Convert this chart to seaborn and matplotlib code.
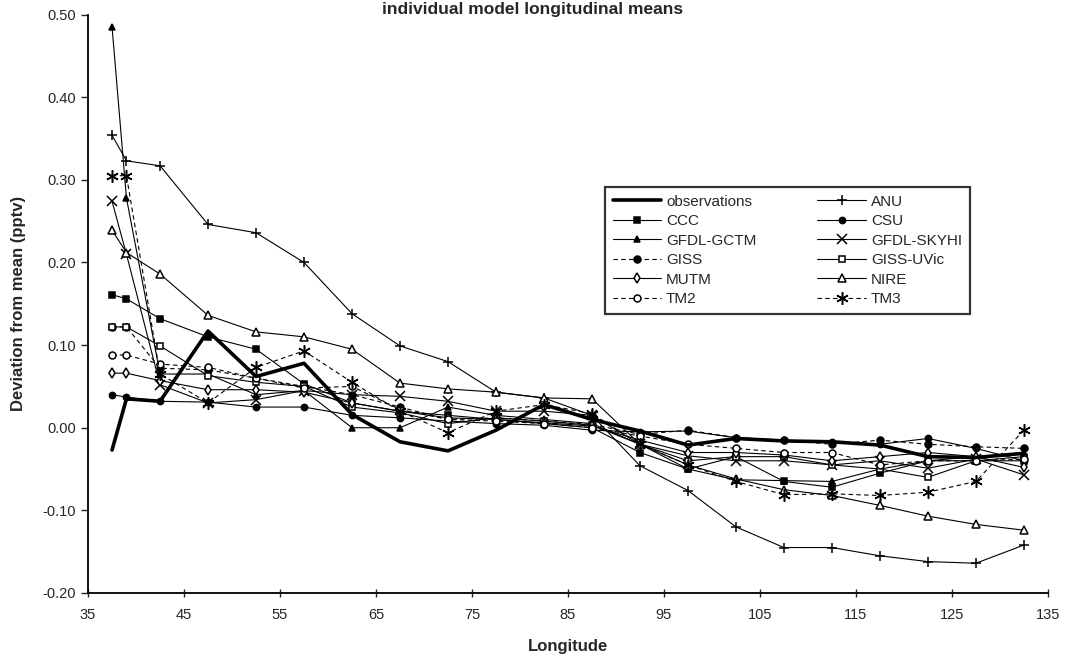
#Libraries needed to run the tool
import numpy as np
import pandas as pd
import matplotlib
matplotlib.use("Agg")
import matplotlib.pyplot as plt
import seaborn as sns

#Longitudes of the points
longitude = [37.5, 39.0, 42.5, 47.5, 52.5, 57.5, 62.5, 67.5, 72.5, 77.5, 82.5,
             87.5, 92.5, 97.5, 102.5, 107.5, 112.5, 117.5, 122.5, 127.5, 132.5]

#Deviation from mean (pptv) for each series
observations = [-0.027, 0.035, 0.032, 0.117, 0.062, 0.078, 0.016, -0.017, -0.028, -0.003, 0.028,
                0.010, -0.004, -0.021, -0.013, -0.016, -0.017, -0.021, -0.035, -0.036, -0.031]
anu = [0.354, 0.323, 0.317, 0.246, 0.236, 0.200, 0.138, 0.099, 0.080, 0.043, 0.036,
       0.015, -0.046, -0.076, -0.120, -0.145, -0.145, -0.155, -0.162, -0.164, -0.142]
ccc = [0.161, 0.156, 0.132, 0.110, 0.095, 0.053, 0.030, 0.020, 0.015, 0.010, 0.005,
       0.000, -0.030, -0.050, -0.035, -0.065, -0.072, -0.055, -0.040, -0.040, -0.035]
csu = [0.040, 0.037, 0.032, 0.031, 0.025, 0.025, 0.015, 0.012, 0.008, 0.005, 0.003,
       -0.003, -0.005, -0.004, -0.012, -0.015, -0.017, -0.020, -0.013, -0.025, -0.040]
gfdl_gctm = [0.485, 0.278, 0.065, 0.065, 0.040, 0.045, 0.000, 0.000, 0.025, 0.015, 0.010,
             0.005, -0.020, -0.050, -0.063, -0.064, -0.065, -0.050, -0.040, -0.035, -0.030]
gfdl_skyhi = [0.274, 0.210, 0.052, 0.030, 0.034, 0.045, 0.040, 0.038, 0.032, 0.020, 0.020,
              0.015, -0.020, -0.034, -0.040, -0.040, -0.045, -0.040, -0.049, -0.038, -0.057]
giss = [0.122, 0.122, 0.072, 0.070, 0.060, 0.050, 0.040, 0.025, 0.010, 0.012, 0.008,
        0.004, -0.008, -0.003, -0.012, -0.015, -0.020, -0.015, -0.020, -0.023, -0.025]
giss_uvic = [0.122, 0.122, 0.099, 0.063, 0.055, 0.050, 0.025, 0.018, 0.005, 0.012, 0.008,
             0.003, -0.020, -0.040, -0.035, -0.035, -0.045, -0.050, -0.060, -0.040, -0.040]
mutm = [0.066, 0.066, 0.057, 0.046, 0.046, 0.043, 0.030, 0.020, 0.012, 0.010, 0.006,
        0.002, -0.015, -0.030, -0.030, -0.033, -0.040, -0.035, -0.030, -0.035, -0.048]
nire = [0.239, 0.212, 0.186, 0.136, 0.116, 0.110, 0.095, 0.054, 0.047, 0.043, 0.036,
        0.035, -0.020, -0.045, -0.062, -0.075, -0.082, -0.094, -0.107, -0.117, -0.124]
tm2 = [0.088, 0.088, 0.077, 0.073, 0.060, 0.048, 0.050, 0.022, 0.010, 0.008, 0.005,
       0.000, -0.010, -0.020, -0.025, -0.030, -0.030, -0.045, -0.040, -0.040, -0.038]
tm3 = [0.305, 0.305, 0.065, 0.030, 0.073, 0.093, 0.055, 0.020, -0.006, 0.020, 0.028,
       0.017, -0.020, -0.045, -0.065, -0.081, -0.080, -0.082, -0.078, -0.065, -0.003]

series = [
    ("observations", observations),
    ("ANU", anu),
    ("CCC", ccc),
    ("CSU", csu),
    ("GFDL-GCTM", gfdl_gctm),
    ("GFDL-SKYHI", gfdl_skyhi),
    ("GISS", giss),
    ("GISS-UVic", giss_uvic),
    ("MUTM", mutm),
    ("NIRE", nire),
    ("TM2", tm2),
    ("TM3", tm3),
]

#Line styles: (linestyle, marker, markersize, marker face, linewidth)
styles = {
    "observations": ("-", None, 0, "black", 2.6),
    "ANU": ("-", "+", 7, "black", 0.8),
    "CCC": ("-", "s", 5, "black", 0.8),
    "CSU": ("-", "o", 4.5, "black", 0.8),
    "GFDL-GCTM": ("-", "^", 5, "black", 0.8),
    "GFDL-SKYHI": ("-", "x", 7.5, "black", 0.8),
    "GISS": ((0, (4, 3)), "o", 5, "black", 0.8),
    "GISS-UVic": ("-", "s", 4.5, "white", 0.8),
    "MUTM": ("-", "d", 5, "white", 0.8),
    "NIRE": ("-", "^", 5.5, "white", 0.8),
    "TM2": ((0, (4, 3)), "o", 5, "white", 0.8),
    "TM3": ((0, (4, 3)), (6, 2, 0), 9, "black", 0.8),
}

sns.set_style("white")
plt.rcParams['font.family'] = ['Liberation Sans', 'DejaVu Sans']

fig = plt.figure(figsize=(10.66, 6.63), dpi=100)
ax = fig.add_axes([0.0826, 0.1056, 0.9004, 0.8724])

for name, values in series:
    ls, mk, ms, fc, lw = styles[name]
    data = pd.DataFrame({"Longitude": longitude, "Deviation": values})
    sns.lineplot(data=data, x="Longitude", y="Deviation", ax=ax, color="black",
                 linestyle=ls, linewidth=lw, marker=mk, markersize=ms,
                 markerfacecolor=fc, markeredgecolor="black", markeredgewidth=1.1,
                 label=name, zorder=3 if name == "observations" else 2)

ax.set_xlim(35, 135)
ax.set_ylim(-0.20, 0.50)
ax.set_xticks(np.arange(35, 136, 10))
ax.set_yticks(np.arange(-0.20, 0.51, 0.10))
ax.set_yticklabels(["{0:.2f}".format(v) for v in np.arange(-0.20, 0.51, 0.10)])
ax.tick_params(axis='x', direction='inout', length=6, width=1, labelsize=10.5, pad=8, bottom=True)
ax.tick_params(axis='y', direction='out', length=5, width=1, labelsize=10.5, left=True)

for side in ['top', 'right']:
    ax.spines[side].set_visible(False)
for side in ['left', 'bottom']:
    ax.spines[side].set_color('black')
    ax.spines[side].set_linewidth(1.3)

ax.set_xlabel("Longitude", fontsize=12, fontweight='bold', labelpad=12)
ax.set_ylabel("Deviation from mean (pptv)", fontsize=12, fontweight='bold', labelpad=12)
fig.text(0.5, 0.985, "individual model longitudinal means", ha='center', va='center',
         fontsize=12.5, fontweight='bold')

#Legend reads row by row: reorder for matplotlib's column filling
handles, labels = ax.get_legend_handles_labels()
order = [0, 2, 4, 6, 8, 10, 1, 3, 5, 7, 9, 11]
leg = ax.legend([handles[i] for i in order], [labels[i] for i in order],
                loc='upper left', bbox_to_anchor=(0.5675, 0.535, 0.342, 0.183),
                bbox_transform=fig.transFigure, mode='expand', ncol=2, borderaxespad=0,
                fontsize=11, frameon=True, fancybox=False, handlelength=3.2,
                borderpad=0.5, labelspacing=0.36, columnspacing=1.5, handletextpad=0.3)
leg.get_frame().set_edgecolor('black')
leg.get_frame().set_linewidth(1.6)

fig.savefig("out.png", dpi=100)
